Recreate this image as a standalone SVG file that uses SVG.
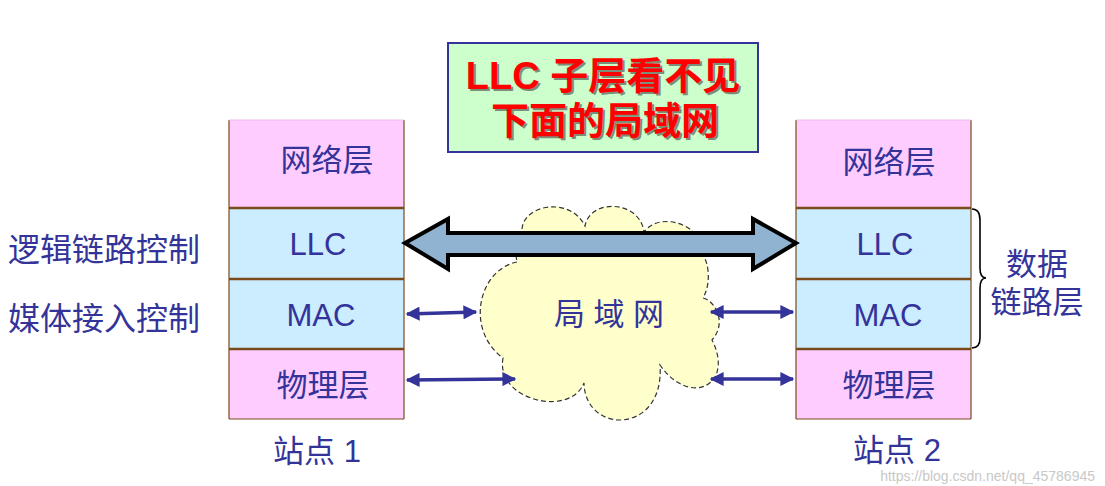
<svg xmlns="http://www.w3.org/2000/svg" width="1105" height="486" viewBox="0 0 1105 486">
<defs>
<style>
.t{font-family:"Liberation Sans","Noto Sans CJK SC",sans-serif;fill:#333399;font-size:31px}
.side{font-size:32px}
.c{text-anchor:middle}
.net{fill:#ffccff}
.dl{fill:#ccecff}
.edge{stroke:#7a4a1a;stroke-width:1.2;fill:none}
.sep{stroke:#7a4a1a;stroke-width:2.5}
.sa{stroke:#333399;stroke-width:3.5;fill:none;marker-start:url(#ah);marker-end:url(#ah)}
.title{font-family:"Liberation Sans","Noto Sans CJK SC",sans-serif;font-size:38px;font-weight:bold;text-anchor:middle}
</style>
<marker id="ah" viewBox="0 0 10 10" refX="9" refY="5" markerWidth="5" markerHeight="4" orient="auto-start-reverse" markerUnits="strokeWidth">
<path d="M0,0 L10,5 L0,10 Z" fill="#333399"/>
</marker>
</defs>
<rect width="1105" height="486" fill="#ffffff"/>

<g id="title">
<rect x="448" y="43" width="310" height="109" fill="#ccffcc" stroke="#333399" stroke-width="2"/>
<text class="title" x="605" y="91" fill="#444444" opacity="0.6">LLC 子层看不见</text>
<text class="title" x="607" y="136" fill="#444444" opacity="0.6">下面的局域网</text>
<text class="title" x="603" y="89" fill="#ff0000">LLC 子层看不见</text>
<text class="title" x="605" y="134" fill="#ff0000">下面的局域网</text>
</g>

<g id="station1">
<rect class="net" x="229" y="120" width="175" height="88"/>
<rect class="dl" x="229" y="208" width="175" height="71"/>
<rect class="dl" x="229" y="279" width="175" height="70"/>
<rect class="net" x="229" y="349" width="175" height="70"/>
<line class="edge" x1="229" y1="120" x2="229" y2="419"/>
<line class="edge" x1="404" y1="120" x2="404" y2="419"/>
<line class="edge" x1="229" y1="419" x2="404" y2="419"/>
<line x1="229" y1="120" x2="404" y2="120" stroke="#eebbee" stroke-width="1"/>
<line class="sep" x1="229" y1="208" x2="404" y2="208"/>
<line class="sep" x1="229" y1="279" x2="404" y2="279"/>
<line class="sep" x1="229" y1="349" x2="404" y2="349"/>
<text class="t c" x="327" y="171">网络层</text>
<text class="t c" x="318" y="255">LLC</text>
<text class="t c" x="321" y="326">MAC</text>
<text class="t c" x="323" y="396">物理层</text>
<text class="t c" x="317" y="462">站点 1</text>
</g>

<g id="station2">
<rect class="net" x="796" y="120" width="175" height="88"/>
<rect class="dl" x="796" y="208" width="175" height="71"/>
<rect class="dl" x="796" y="279" width="175" height="70"/>
<rect class="net" x="796" y="349" width="175" height="70"/>
<line class="edge" x1="796" y1="120" x2="796" y2="419"/>
<line class="edge" x1="971" y1="120" x2="971" y2="419"/>
<line class="edge" x1="796" y1="419" x2="971" y2="419"/>
<line x1="796" y1="120" x2="971" y2="120" stroke="#eebbee" stroke-width="1"/>
<line class="sep" x1="796" y1="208" x2="971" y2="208"/>
<line class="sep" x1="796" y1="279" x2="971" y2="279"/>
<line class="sep" x1="796" y1="349" x2="971" y2="349"/>
<text class="t c" x="889" y="173">网络层</text>
<text class="t c" x="885" y="255">LLC</text>
<text class="t c" x="888" y="326">MAC</text>
<text class="t c" x="889" y="396">物理层</text>
<text class="t c" x="897" y="461">站点 2</text>
</g>

<g id="lan">
<path d="M517,262 C478,270 465,330 503,358 C495,400 570,418 584,383 C585,435 665,435 660,365 C690,408 735,385 712,340 C728,322 714,300 703,298 C712,282 708,262 703,255 C705,225 660,210 644,232 C640,200 590,198 585,226 C570,195 520,205 522,232 C516,242 515,252 517,262 Z" fill="#ffffcc" stroke="#333333" stroke-width="1.2" stroke-dasharray="5,3"/>
<text class="t c" x="609" y="325">局 域 网</text>
</g>

<g id="labels">
<text class="t side" x="8" y="261">逻辑链路控制</text>
<text class="t side" x="8" y="330">媒体接入控制</text>
<path d="M972,209 Q980,209 980,220 L980,268 Q980,278 986,278 Q980,278 980,288 L980,338 Q980,348 972,348" fill="none" stroke="#000000" stroke-width="1.6"/>
<text class="t c" x="1037" y="275">数据</text>
<text class="t c" x="1037" y="313">链路层</text>
<text x="1095" y="481" font-family="Liberation Sans, sans-serif" font-size="14" fill="#c8c8c8" text-anchor="end">https://blog.csdn.net/qq_45786945</text>
</g>

<g id="connectors">
<polygon points="405,243 448,219 448,233 753,233 753,219 796,243 753,269 753,255 448,255 448,269" fill="#8fb3d1" stroke="#000000" stroke-width="4" stroke-linejoin="miter"/>
<line class="sa" x1="407" y1="314" x2="476" y2="312"/>
<line class="sa" x1="407" y1="380" x2="515" y2="379"/>
<line class="sa" x1="711" y1="312" x2="793" y2="312"/>
<line class="sa" x1="711" y1="379" x2="793" y2="379"/>
</g>
</svg>
